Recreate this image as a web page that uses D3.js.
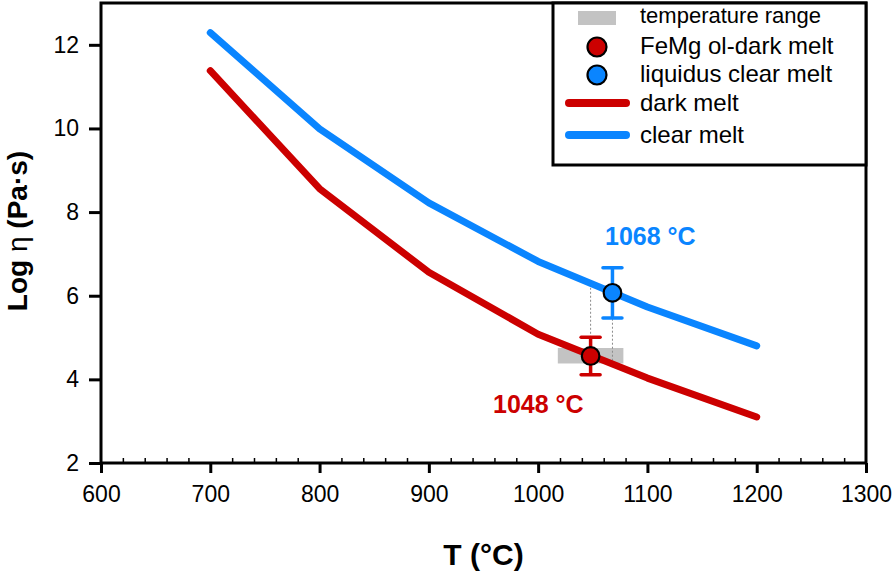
<!DOCTYPE html>
<html>
<head>
<meta charset="utf-8">
<script src="https://cdn.jsdelivr.net/npm/d3@7/dist/d3.min.js"></script>
<style>
  html, body { margin: 0; padding: 0; background: #fff; }
  svg { display: block; }
  text { font-family: "Liberation Sans", Arial, sans-serif; }
</style>
</head>
<body>
<svg id="chart" width="896" height="573"></svg>
<script>
// ---------- data ----------
const temps = [700, 800, 900, 1000, 1100, 1200];
const darkMelt = [11.38, 8.56, 6.56, 5.08, 4.03, 3.10];
const clearMelt = [12.29, 9.99, 8.22, 6.82, 5.73, 4.80];

const pointTemps = [1048, 1068];
const pointValues = [4.56, 6.07];
const pointErrors = [0.45, 0.60];
const pointLabels = ["1048 °C", "1068 °C"];

const rangeTemps = [1018, 1078];
const rangeValues = [4.38, 4.75];

const dropTemps = [1048, 1068];
const dropFrom = [6.19, 5.45];
const dropTo = [4.75, 4.45];

const xTicks = [600, 700, 800, 900, 1000, 1100, 1200, 1300];
const yTicks = [2, 4, 6, 8, 10, 12];
const legendLabels = ["temperature range", "FeMg ol-dark melt", "liquidus clear melt", "dark melt", "clear melt"];

const RED = "#cc0000", BLUE = "#0a85ff", GRAY = "#c3c3c3";

// ---------- scales ----------
const svg = d3.select("#chart");
const x = d3.scaleLinear().domain([600, 1300]).range([101, 866]);
const y = d3.scaleLinear().domain([2, 13]).range([463, 3]);

// ---------- temperature range rect ----------
svg.append("rect")
  .attr("x", x(rangeTemps[0])).attr("width", x(rangeTemps[1]) - x(rangeTemps[0]))
  .attr("y", y(rangeValues[1])).attr("height", y(rangeValues[0]) - y(rangeValues[1]))
  .attr("fill", GRAY);

// drop lines
dropTemps.forEach((t, i) => {
  svg.append("line")
    .attr("x1", x(t)).attr("x2", x(t))
    .attr("y1", y(dropFrom[i])).attr("y2", y(dropTo[i]))
    .attr("stroke", "#8a8a8a").attr("stroke-width", 1)
    .attr("stroke-dasharray", "2,2");
});

// ---------- curves ----------
const line = d3.line().x(d => x(d[0])).y(d => y(d[1]));
[[darkMelt, RED], [clearMelt, BLUE]].forEach(([vals, col]) => {
  svg.append("path")
    .datum(temps.map((t, i) => [t, vals[i]]))
    .attr("d", line)
    .attr("fill", "none").attr("stroke", col)
    .attr("stroke-width", 7).attr("stroke-linecap", "round").attr("stroke-linejoin", "round");
});

// ---------- points with error bars ----------
const pColors = [RED, BLUE];
pointTemps.forEach((t, i) => {
  const g = svg.append("g");
  const cx = x(t);
  const top = y(pointValues[i] + pointErrors[i]);
  const bot = y(pointValues[i] - pointErrors[i]);
  g.append("line").attr("x1", cx).attr("x2", cx).attr("y1", top).attr("y2", bot)
    .attr("stroke", pColors[i]).attr("stroke-width", 3.5);
  [top, bot].forEach(yy => {
    g.append("line").attr("x1", cx - 9.5).attr("x2", cx + 9.5).attr("y1", yy).attr("y2", yy)
      .attr("stroke", pColors[i]).attr("stroke-width", 3.5).attr("stroke-linecap", "round");
  });
  g.append("circle").attr("cx", cx).attr("cy", y(pointValues[i])).attr("r", 8.8)
    .attr("fill", pColors[i]).attr("stroke", "#000").attr("stroke-width", 2.2);
});

// point labels
svg.append("text").attr("x", 493).attr("y", 413)
  .attr("font-size", 25).attr("font-weight", "bold").attr("fill", RED).text(pointLabels[0]);
svg.append("text").attr("x", 605).attr("y", 245)
  .attr("font-size", 25).attr("font-weight", "bold").attr("fill", BLUE).text(pointLabels[1]);

// ---------- axes ----------
const xAxis = svg.append("g").attr("transform", "translate(0,463)")
  .call(d3.axisBottom(x).tickValues(xTicks).tickSize(10).tickPadding(8).tickFormat(d3.format("d")));
xAxis.select(".domain").remove();
xAxis.selectAll(".tick line").attr("stroke", "#000").attr("stroke-width", 3);
xAxis.selectAll(".tick text").attr("font-size", 23).attr("font-family", "Liberation Sans, Arial, sans-serif")
  .attr("fill", "#000").attr("dy", "0.71em").attr("y", 23);

// minor x ticks (inward)
const minor = d3.range(600, 1300, 20).filter(v => v % 100 !== 0);
const minorAxis = svg.append("g").attr("transform", "translate(0,463)")
  .call(d3.axisTop(x).tickValues(minor).tickSize(5).tickFormat(""));
minorAxis.select(".domain").remove();
minorAxis.selectAll(".tick line").attr("stroke", "#000").attr("stroke-width", 1.5);

const yAxis = svg.append("g").attr("transform", "translate(101,0)")
  .call(d3.axisLeft(y).tickValues(yTicks).tickSize(12).tickPadding(10).tickFormat(d3.format("d")));
yAxis.select(".domain").remove();
yAxis.selectAll(".tick line").attr("stroke", "#000").attr("stroke-width", 3);
yAxis.selectAll(".tick text").attr("font-size", 23).attr("font-family", "Liberation Sans, Arial, sans-serif")
  .attr("fill", "#000");

// frame
svg.append("rect").attr("x", x(600)).attr("y", y(13)).attr("width", x(1300) - x(600)).attr("height", y(2) - y(13))
  .attr("fill", "none").attr("stroke", "#000").attr("stroke-width", 3);

// axis titles
svg.append("text").attr("x", (x(600) + x(1300)) / 2).attr("y", 565)
  .attr("text-anchor", "middle").attr("font-size", 30).attr("font-weight", "bold").text("T (°C)");
const yt = svg.append("text").attr("transform", "translate(27,231) rotate(-90)")
  .attr("text-anchor", "middle").attr("font-size", 28).attr("font-weight", "bold");
yt.append("tspan").text("Log ");
yt.append("tspan").attr("font-weight", "normal").text("η");
yt.append("tspan").text(" (Pa·s)");

// ---------- legend ----------
const lg = svg.append("g");
lg.append("rect").attr("x", 553).attr("y", 3).attr("width", 866 - 553).attr("height", 162)
  .attr("fill", "#fff").attr("stroke", "#000").attr("stroke-width", 3);
const baselines = [23, 54, 82, 111, 143];
const sizes = [22, 24, 24, 24, 24];
legendLabels.forEach((t, i) => {
  lg.append("text").attr("x", 640).attr("y", baselines[i]).attr("font-size", sizes[i]).text(t);
});
lg.append("rect").attr("x", 578).attr("y", 11).attr("width", 38).attr("height", 14).attr("fill", GRAY);
[[RED, 47], [BLUE, 75]].forEach(([c, cy]) => {
  lg.append("circle").attr("cx", 597).attr("cy", cy).attr("r", 9.5)
    .attr("fill", c).attr("stroke", "#000").attr("stroke-width", 2.2);
});
[[RED, 103], [BLUE, 135]].forEach(([c, yy]) => {
  lg.append("line").attr("x1", 569).attr("x2", 626).attr("y1", yy).attr("y2", yy)
    .attr("stroke", c).attr("stroke-width", 8).attr("stroke-linecap", "round");
});
</script>
</body>
</html>
